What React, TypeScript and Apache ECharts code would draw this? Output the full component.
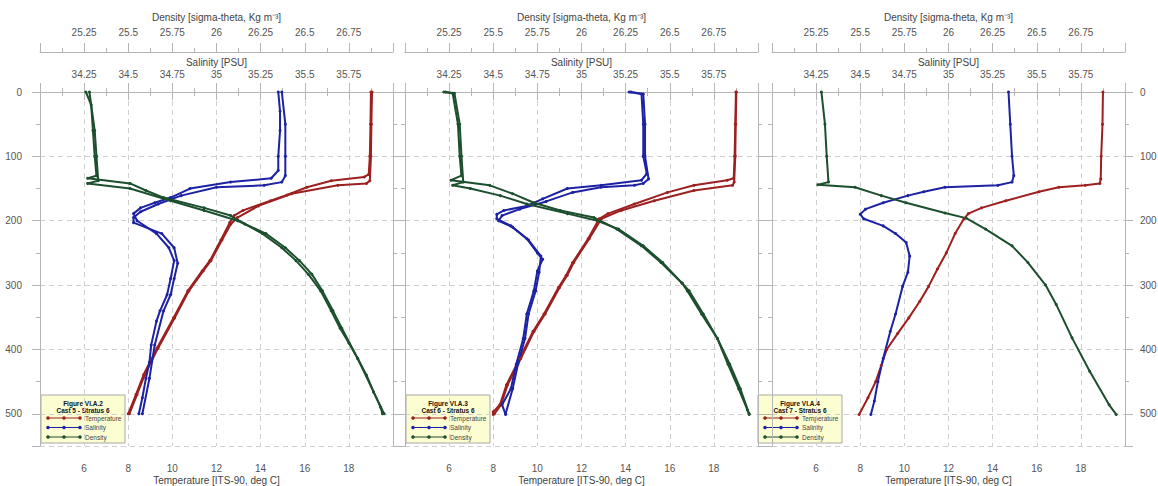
import React, { useEffect, useRef } from "react";
import * as echarts from "echarts";

// ---------- labels ----------
const PANEL_FIGURES = ["Figure VI.A.2", "Figure VI.A.3", "Figure VI.A.4"];
const PANEL_CASTS = ["Cast 5 - Stratus 6", "Cast 6 - Stratus 6", "Cast 7 - Stratus 6"];
const LEGEND_NAMES = ["Temperature", "Salinity", "Density"];
const AXIS_NAMES = {
  temp: "Temperature [ITS-90, deg C]",
  sal: "Salinity [PSU]",
  dens: "Density [sigma-theta, Kg m\u207B\u00B3]",
};

// ---------- data: [value, depth (m)] ----------
// Panel 1 (Cast 5)
const p1TempA = [[19.0, 0], [18.98, 50], [18.95, 100], [18.9, 128], [18.7, 132], [17.2, 138], [16.1, 148], [15.2, 160], [14.45, 169], [13.2, 184], [12.8, 192], [12.6, 203], [12.2, 230], [11.7, 262], [11.35, 278], [10.7, 309], [10.05, 351], [9.3, 398], [8.7, 439], [8.35, 470], [8.0, 500]];
const p1TempB = [[19.05, 0], [19.02, 50], [19.0, 100], [18.95, 138], [18.8, 142], [17.5, 145], [15.4, 158], [13.9, 177], [12.95, 195], [12.65, 205], [12.25, 230], [11.75, 262], [11.4, 278], [10.75, 309], [10.1, 351], [9.35, 398], [8.75, 439], [8.4, 470], [8.05, 500]];
const p1SalA = [[35.35, 0], [35.36, 30], [35.36, 60], [35.35, 100], [35.35, 122], [35.31, 134], [35.08, 140], [34.85, 150], [34.74, 164], [34.65, 172], [34.57, 180], [34.53, 189], [34.55, 200], [34.66, 220], [34.73, 242], [34.76, 262], [34.74, 290], [34.72, 315], [34.68, 340], [34.66, 356], [34.63, 393], [34.62, 420], [34.6, 445], [34.58, 475], [34.56, 500]];
const p1SalB = [[35.37, 0], [35.39, 50], [35.39, 100], [35.39, 130], [35.37, 140], [35.27, 145], [35.0, 148], [34.8, 161], [34.67, 174], [34.57, 186], [34.53, 195], [34.53, 203], [34.69, 220], [34.76, 242], [34.78, 266], [34.76, 290], [34.74, 315], [34.7, 340], [34.65, 393], [34.62, 445], [34.58, 500]];
const p1DensA = [[25.26, 0], [25.29, 20], [25.3, 60], [25.31, 100], [25.32, 130], [25.27, 134], [25.51, 142], [25.6, 153], [25.7, 164], [25.93, 180], [26.08, 192], [26.16, 205], [26.26, 220], [26.37, 242], [26.45, 262], [26.52, 283], [26.59, 309], [26.65, 340], [26.7, 367], [26.75, 390], [26.8, 414], [26.85, 440], [26.89, 466], [26.93, 490], [26.94, 500]];
const p1DensB = [[25.28, 0], [25.31, 60], [25.32, 100], [25.33, 138], [25.27, 142], [25.51, 150], [25.74, 169], [25.93, 184], [26.12, 200], [26.28, 220], [26.39, 242], [26.47, 262], [26.54, 283], [26.6, 309], [26.66, 340], [26.71, 367], [26.8, 414], [26.89, 466], [26.95, 500]];

// Panel 2 (Cast 6)
const p2TempA = [[19.0, 0], [18.97, 50], [18.94, 100], [18.9, 134], [18.6, 137], [17.1, 145], [15.9, 156], [14.4, 174], [13.2, 189], [12.8, 197], [12.3, 228], [11.6, 265], [11.3, 285], [10.95, 304], [10.3, 345], [9.8, 372], [9.2, 414], [8.6, 455], [8.3, 486], [8.0, 497], [8.0, 501]];
const p2TempB = [[19.02, 0], [18.99, 50], [18.97, 100], [18.92, 140], [18.85, 145], [17.1, 153], [15.3, 169], [13.8, 184], [12.9, 197], [12.35, 228], [11.65, 265], [11.35, 285], [11.0, 304], [10.35, 345], [9.85, 372], [9.25, 414], [8.65, 455], [8.35, 486], [8.05, 500]];
const p2SalA = [[35.27, 0], [35.34, 3], [35.35, 50], [35.35, 100], [35.37, 127], [35.34, 137], [35.11, 145], [34.92, 150], [34.78, 166], [34.69, 177], [34.56, 184], [34.52, 190], [34.52, 197], [34.6, 208], [34.69, 228], [34.75, 250], [34.78, 260], [34.75, 278], [34.73, 309], [34.69, 345], [34.67, 383], [34.63, 423], [34.6, 461], [34.55, 486], [34.57, 501]];
const p2SalB = [[35.28, 0], [35.35, 3], [35.36, 50], [35.36, 100], [35.38, 135], [35.35, 142], [35.3, 145], [35.11, 148], [34.95, 156], [34.8, 170], [34.65, 182], [34.55, 192], [34.53, 200], [34.61, 210], [34.7, 230], [34.77, 255], [34.76, 280], [34.74, 309], [34.7, 345], [34.68, 383], [34.64, 423], [34.61, 461], [34.57, 500]];
const p2DensA = [[25.22, 0], [25.27, 2], [25.3, 50], [25.31, 100], [25.32, 130], [25.26, 137], [25.48, 145], [25.61, 158], [25.73, 172], [25.88, 184], [26.07, 195], [26.2, 213], [26.34, 239], [26.45, 265], [26.57, 297], [26.6, 309], [26.68, 345], [26.77, 383], [26.83, 423], [26.89, 461], [26.94, 494], [26.95, 501]];
const p2DensB = [[25.23, 0], [25.28, 2], [25.31, 50], [25.32, 100], [25.33, 140], [25.27, 145], [25.37, 150], [25.54, 161], [25.69, 174], [25.92, 189], [26.09, 200], [26.21, 213], [26.35, 239], [26.46, 265], [26.57, 297], [26.61, 309], [26.69, 345], [26.77, 383], [26.84, 423], [26.9, 461], [26.95, 500]];

// Panel 3 (Cast 7)
const p3Temp = [[19.0, 0], [18.98, 50], [18.92, 100], [18.9, 135], [18.86, 142], [18.2, 145], [17.0, 148], [16.1, 155], [14.6, 169], [13.5, 180], [12.9, 189], [12.7, 197], [12.3, 220], [11.9, 250], [11.5, 275], [11.1, 302], [10.7, 325], [10.2, 351], [9.7, 375], [9.2, 400], [8.95, 425], [8.7, 450], [8.35, 475], [7.95, 501]];
const p3Sal = [[35.34, 0], [35.35, 50], [35.36, 100], [35.37, 130], [35.36, 140], [35.28, 145], [34.98, 148], [34.86, 155], [34.77, 161], [34.63, 172], [34.53, 182], [34.5, 190], [34.52, 197], [34.63, 208], [34.7, 220], [34.76, 234], [34.78, 255], [34.77, 280], [34.74, 302], [34.7, 345], [34.67, 372], [34.63, 414], [34.6, 450], [34.58, 480], [34.56, 501]];
const p3Dens = [[25.28, 0], [25.3, 50], [25.31, 100], [25.32, 140], [25.26, 144], [25.47, 148], [25.62, 161], [25.76, 172], [25.98, 188], [26.1, 196], [26.21, 213], [26.36, 239], [26.45, 265], [26.55, 300], [26.61, 330], [26.7, 382], [26.8, 434], [26.91, 486], [26.95, 501]];

// profiles per panel: [kind (0 temp, 1 sal, 2 dens), data]
const PANEL_PROFILES: [number, number[][]][][] = [
  [[0, p1TempA], [0, p1TempB], [1, p1SalA], [1, p1SalB], [2, p1DensA], [2, p1DensB]],
  [[0, p2TempA], [0, p2TempB], [1, p2SalA], [1, p2SalB], [2, p2DensA], [2, p2DensB]],
  [[0, p3Temp], [1, p3Sal], [2, p3Dens]],
];

// ---------- styling ----------
const COLORS = ["#9c2020", "#1c22a3", "#1c4f2d"];
const FONT = "Liberation Sans, Arial, Helvetica, sans-serif";
const AXIS_COLOR = "#b5b5b5";
const LABEL_COLOR = "#555";
const GRID_LEFTS = [40, 405, 772];
const GRID_W = 353;
const GRID_TOP = 92;
const GRID_H = 354;
const LEGEND_X = [41, 406, 758];

export default function App() {
  const ref = useRef<HTMLDivElement>(null);
  useEffect(() => {
    if (!ref.current) return;
    const chart = echarts.init(ref.current, undefined, { renderer: "svg" });

    const grids = GRID_LEFTS.map((l) => ({
      left: l, top: GRID_TOP, width: GRID_W, height: GRID_H,
      containLabel: false, outerBoundsMode: "none",
    }));
    const lineStyle = { color: AXIS_COLOR, width: 1 };
    const labelBase = { fontSize: 10, color: LABEL_COLOR, fontFamily: FONT };
    const nameStyle = { fontSize: 10, color: "#444", fontFamily: FONT };

    const xAxes: any[] = [];
    const yAxes: any[] = [];
    GRID_LEFTS.forEach((_, i) => {
      xAxes.push({
        gridIndex: i, type: "value", position: "bottom", min: 4, max: 20, interval: 2,
        name: AXIS_NAMES.temp, nameLocation: "middle", nameGap: 29, nameMoveOverlap: false, nameTextStyle: nameStyle,
        axisLine: { show: true, lineStyle },
        axisTick: { show: true, length: 8, lineStyle },
        minorTick: { show: true, splitNumber: 2, length: 4, lineStyle },
        axisLabel: { ...labelBase, margin: 17, showMinLabel: false, showMaxLabel: false },
        splitLine: { show: true, lineStyle: { type: [5, 4], color: "#cfcfcf", width: 1 } },
      });
      xAxes.push({
        gridIndex: i, type: "value", position: "top", min: 34, max: 36, interval: 0.25,
        name: AXIS_NAMES.sal, nameLocation: "middle", nameGap: 25, nameMoveOverlap: false, nameTextStyle: nameStyle,
        axisLine: { show: false, lineStyle },
        axisTick: { show: true, length: 9, lineStyle },
        minorTick: { show: true, splitNumber: 2, length: 4, lineStyle },
        axisLabel: { ...labelBase, margin: 13, showMinLabel: false, showMaxLabel: false },
        splitLine: { show: false },
      });
      xAxes.push({
        gridIndex: i, type: "value", position: "top", offset: 40, min: 25, max: 27, interval: 0.25,
        name: AXIS_NAMES.dens, nameLocation: "middle", nameGap: 30, nameMoveOverlap: false, nameTextStyle: nameStyle,
        axisLine: { show: true, lineStyle },
        axisTick: { show: true, length: 9, lineStyle },
        minorTick: { show: true, splitNumber: 2, length: 4, lineStyle },
        axisLabel: { ...labelBase, margin: 15, showMinLabel: false, showMaxLabel: false },
        splitLine: { show: false },
      });
      yAxes.push({
        gridIndex: i, type: "value", position: "left", inverse: true, min: 0, max: 550, interval: 100,
        axisLine: { show: true, lineStyle },
        axisTick: { show: true, length: 8, lineStyle },
        minorTick: { show: true, splitNumber: 2, length: 4, lineStyle },
        axisLabel: { ...labelBase, show: i === 0, margin: 18, showMaxLabel: false },
        splitLine: { show: true, lineStyle: { type: [5, 4], color: "#cfcfcf", width: 1 } },
      });
      yAxes.push({
        gridIndex: i, type: "value", position: "right", inverse: true, min: 0, max: 550, interval: 100,
        axisLine: { show: true, lineStyle },
        axisTick: { show: true, length: 8, lineStyle },
        minorTick: { show: true, splitNumber: 2, length: 4, lineStyle },
        axisLabel: { ...labelBase, show: i === 2, margin: 15, showMaxLabel: false },
        splitLine: { show: false },
      });
    });

    const series: any[] = [];
    PANEL_PROFILES.forEach((profiles, i) => {
      profiles.forEach(([kind, data]) => {
        series.push({
          type: "line",
          name: LEGEND_NAMES[kind],
          xAxisIndex: i * 3 + kind,
          yAxisIndex: i * 2,
          data,
          showSymbol: true,
          symbol: "circle",
          symbolSize: 3,
          lineStyle: { color: COLORS[kind], width: 2 },
          itemStyle: { color: COLORS[kind] },
          silent: true,
          z: 3,
        });
      });
    });

    const graphic: any[] = [];
    LEGEND_X.forEach((bx, i) => {
      const by = 395;
      const children: any[] = [
        { type: "rect", shape: { x: 0, y: 0, width: 84, height: 48 }, style: { fill: "#fdfdd2", stroke: "#a8a8a8", lineWidth: 1 } },
        { type: "text", x: 42, y: 8, style: { text: PANEL_FIGURES[i], font: `bold 6.5px ${FONT}`, fill: "#111", align: "center", verticalAlign: "middle" } },
        { type: "text", x: 42, y: 15, style: { text: PANEL_CASTS[i], font: `bold 6.5px ${FONT}`, fill: "#111", align: "center", verticalAlign: "middle" } },
      ];
      LEGEND_NAMES.forEach((nm, k) => {
        const yy = 23 + k * 9.5;
        children.push({ type: "line", shape: { x1: 7, y1: yy, x2: 39, y2: yy }, style: { stroke: COLORS[k], lineWidth: 1 } });
        [7, 23, 39].forEach((cx) => children.push({ type: "circle", shape: { cx, cy: yy, r: 1.8 }, style: { fill: COLORS[k] } }));
        children.push({ type: "text", x: 44, y: yy, style: { text: nm, font: `6.5px ${FONT}`, fill: "#444", align: "left", verticalAlign: "middle" } });
      });
      graphic.push({ type: "group", x: bx, y: by, z: 100, children });
    });

    chart.setOption({
      animation: false,
      backgroundColor: "#ffffff",
      textStyle: { fontFamily: FONT },
      grid: grids,
      xAxis: xAxes,
      yAxis: yAxes,
      series,
      graphic,
    });
    return () => chart.dispose();
  }, []);
  return <div ref={ref} style={{ position: "absolute", left: 0, top: 0, width: 1158, height: 486 }} />;
}
